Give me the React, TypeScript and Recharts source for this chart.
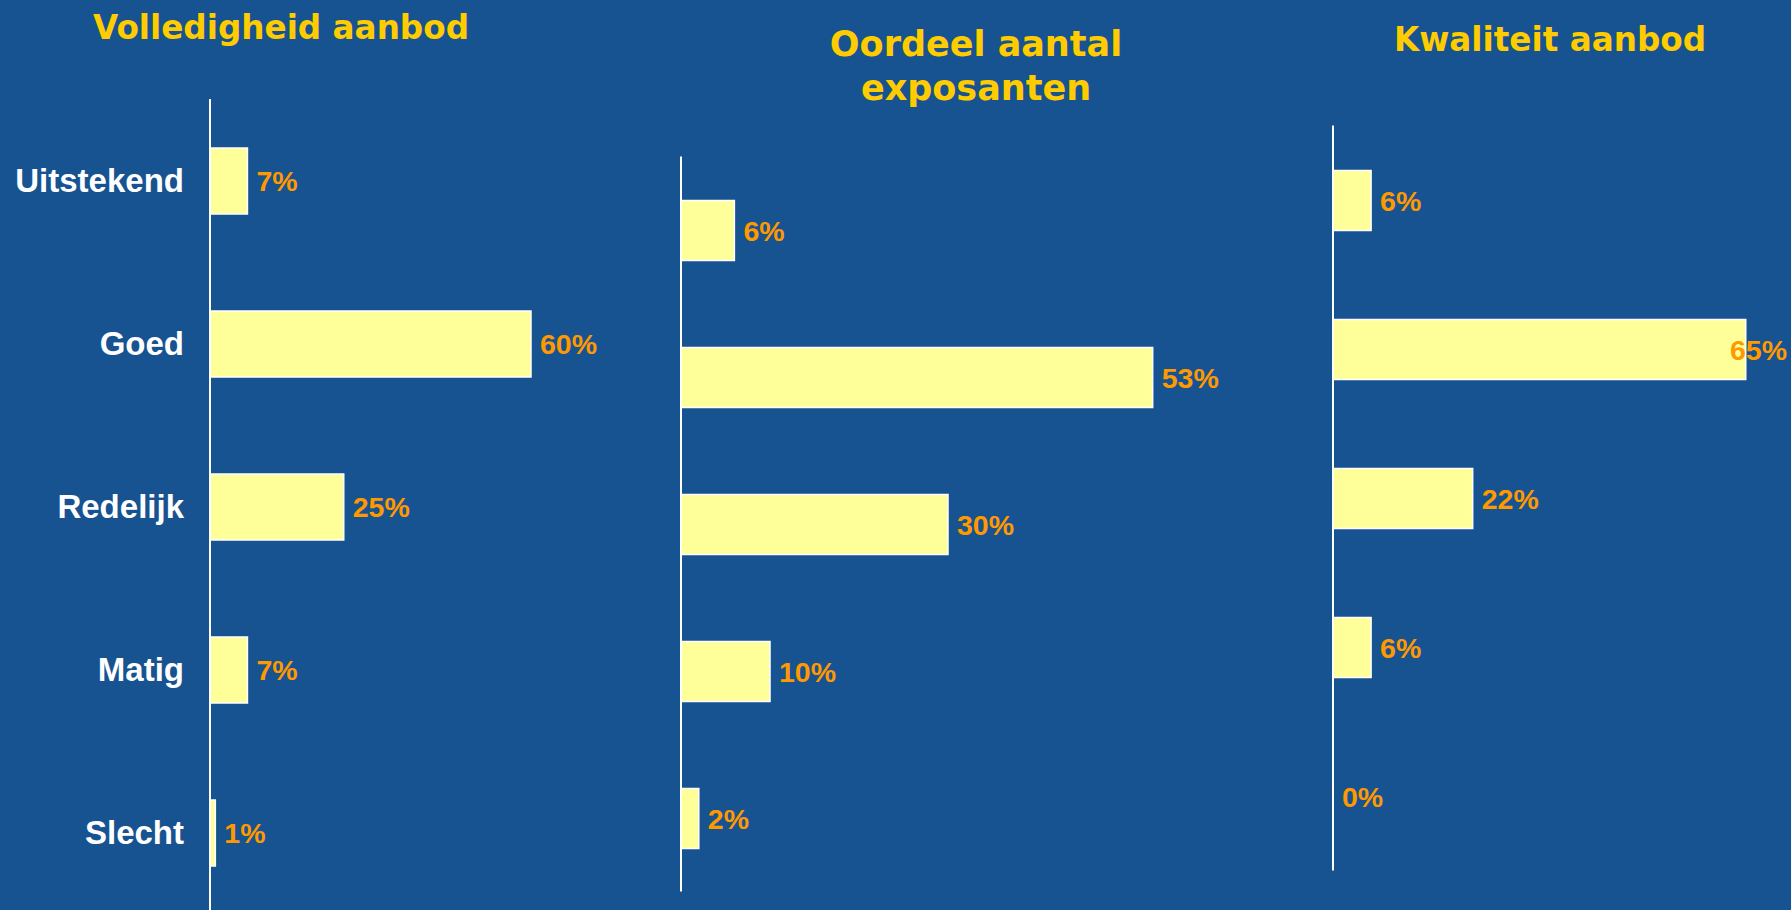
import React from "react";
import { BarChart, Bar, XAxis, YAxis, LabelList } from "recharts";

const categories = ["Uitstekend", "Goed", "Redelijk", "Matig", "Slecht"];
const volledigheid = [7, 60, 25, 7, 1];
const exposanten = [6, 53, 30, 10, 2];
const kwaliteit = [6, 65, 22, 6, 0];

const BG = "#175291";
const TITLE = "#FFCC00";
const VALUE = "#FF9900";
const BAR = "#FFFF99";

const toRows = (values: number[]) =>
  categories.map((name, i) => ({ name, value: values[i] }));

function makeValueLabel(chartWidth: number) {
  return (props: any) => {
    const { x, y, width, height, value } = props;
    const fs = 28.5;
    const txt = `${value}%`;
    const w = (String(value).length * 0.556 + 0.889) * fs;
    let tx = x + width + 9;
    if (tx + w > chartWidth - 4) tx = chartWidth - 4 - w;
    return (
      <text
        x={tx}
        y={y + height / 2}
        fontSize={fs}
        fontWeight="bold"
        fill={VALUE}
        fontFamily="'Liberation Sans', Arial, sans-serif"
        dominantBaseline="central"
      >
        {txt}
      </text>
    );
  };
}

const CategoryTick = (props: any) => {
  const { x, y, payload } = props;
  return (
    <text
      x={x}
      y={y}
      textAnchor="end"
      dominantBaseline="central"
      fontSize={33}
      fontWeight="bold"
      fill="#ffffff"
      fontFamily="'Liberation Sans', Arial, sans-serif"
    >
      {payload.value}
    </text>
  );
};

function Title({ cx, top, size, lh, k, children }: any) {
  return (
    <div
      style={{
        position: "absolute",
        left: cx - 300,
        top,
        width: 600,
        textAlign: "center",
        color: TITLE,
        fontFamily: "'DejaVu Sans', Verdana, sans-serif",
        fontWeight: "bold",
        fontSize: size,
        lineHeight: `${lh}px`,
        transform: `scaleX(${k})`,
        whiteSpace: "nowrap",
      }}
    >
      {children}
    </div>
  );
}

function Panel({ left, width, height, margin, values, xMax, barSize, showTicks, axisWidth }: any) {
  return (
    <div style={{ position: "absolute", left, top: 0 }}>
      <BarChart
        width={width}
        height={height}
        data={toRows(values)}
        layout="vertical"
        margin={margin}
      >
        <XAxis type="number" domain={[0, xMax]} hide />
        <YAxis
          type="category"
          dataKey="name"
          width={axisWidth}
          axisLine={{ stroke: "#ffffff", strokeWidth: 2 }}
          tickLine={false}
          tickSize={0}
          tickMargin={26}
          tick={showTicks ? <CategoryTick /> : false}
        />
        <Bar
          dataKey="value"
          fill={BAR}
          stroke="#ffffff"
          strokeWidth={1.5}
          barSize={barSize}
          minPointSize={(v: number) => (v === 0 ? 0.01 : 0)}
          isAnimationActive={false}
        >
          <LabelList dataKey="value" content={makeValueLabel(width)} />
        </Bar>
      </BarChart>
    </div>
  );
}

export default function App() {
  return (
    <div
      style={{
        position: "absolute",
        left: 0,
        top: 0,
        width: 1791,
        height: 910,
        background: BG,
        overflow: "hidden",
      }}
    >
      <Panel
        left={0}
        width={805}
        height={915}
        margin={{ top: 99, right: 60, bottom: 1, left: 0 }}
        values={volledigheid}
        xMax={100}
        barSize={66}
        showTicks
        axisWidth={210}
      />
      <Panel
        left={641}
        width={940}
        height={910}
        margin={{ top: 156.5, right: 10, bottom: 18.5, left: 0 }}
        values={exposanten}
        xMax={100}
        barSize={60}
        showTicks={false}
        axisWidth={40}
      />
      <Panel
        left={1293}
        width={498}
        height={910}
        margin={{ top: 125.6, right: 13.5, bottom: 39.4, left: 0 }}
        values={kwaliteit}
        xMax={70}
        barSize={60}
        showTicks={false}
        axisWidth={40}
      />
      <Title cx={281} top={9.5} size={34} lh={34} k={0.96}>
        Volledigheid aanbod
      </Title>
      <Title cx={976} top={22} size={35} lh={44} k={1}>
        Oordeel aantal
        <br />
        exposanten
      </Title>
      <Title cx={1550} top={21.5} size={34} lh={34} k={0.96}>
        Kwaliteit aanbod
      </Title>
    </div>
  );
}
